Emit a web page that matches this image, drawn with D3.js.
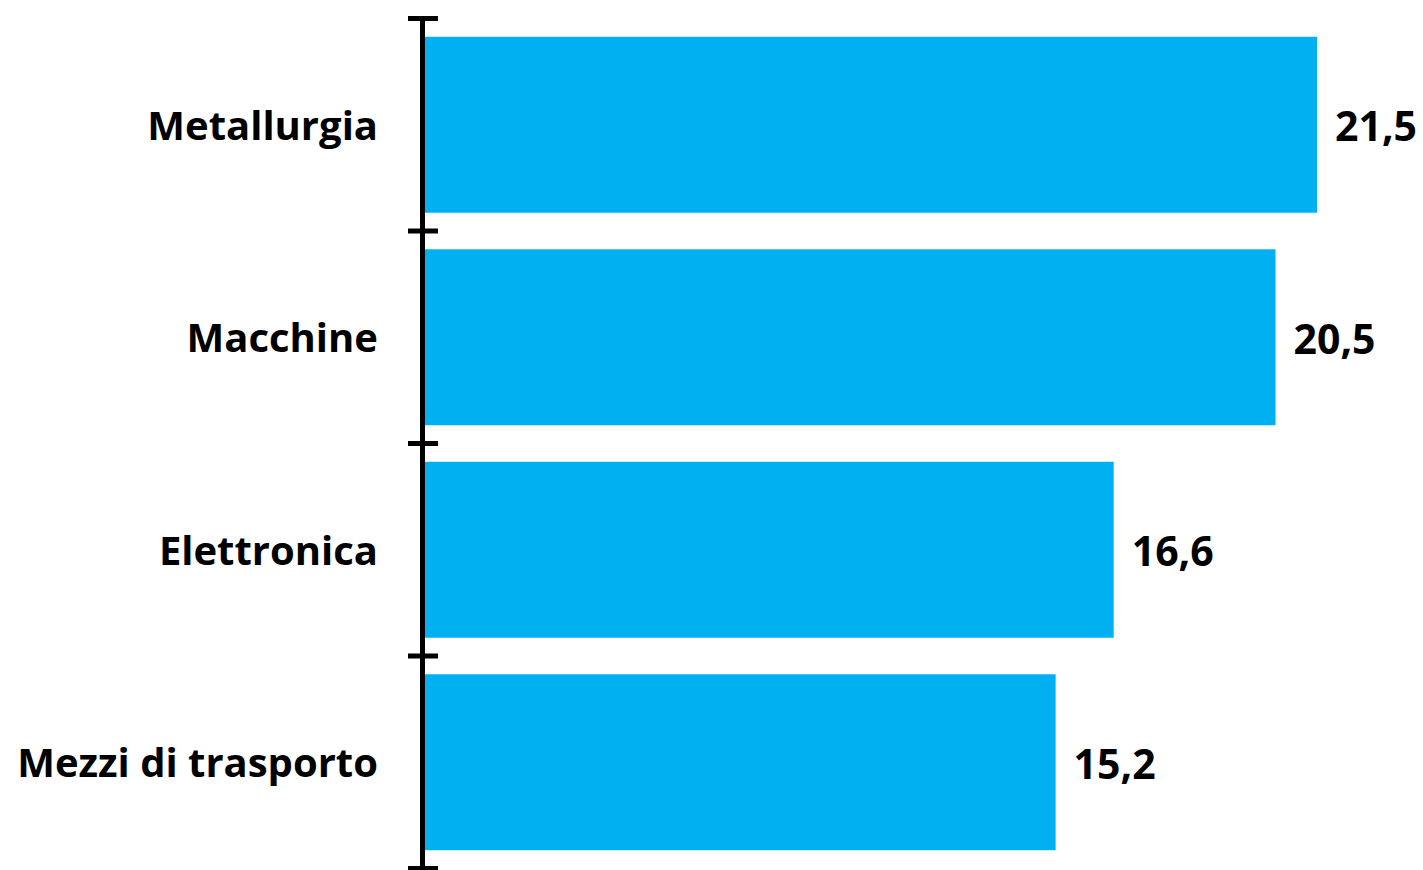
<!DOCTYPE html>
<html><head><meta charset="utf-8">
<script src="https://cdn.jsdelivr.net/npm/d3@7"></script>
<style>body{margin:0;background:#fff}svg{display:block}</style>
</head><body>
<svg id="c" width="1423" height="870"></svg>
<script>
const categories = ["Metallurgia","Macchine","Elettronica","Mezzi di trasporto"];
const values = [21.5, 20.5, 16.6, 15.2];
const valueLabels = ["21,5","20,5","16,6","15,2"];

const svg = d3.select("#c");
const x = d3.scaleLinear().domain([0, 21.5]).range([425, 1317]);
const y = d3.scaleBand().domain(categories).range([18.5, 868.5]).paddingInner(0.172).paddingOuter(0.086);

svg.selectAll("rect.bar").data(categories).join("rect")
  .attr("class","bar")
  .attr("x", x(0))
  .attr("y", d => y(d))
  .attr("width", (d,i) => x(values[i]) - x(0))
  .attr("height", y.bandwidth())
  .attr("fill", "#00B0F0");

const axisX = 422.5;
const tickPos = [18.5].concat(categories.map(c => y(c) + y.bandwidth()/2 + y.step()/2));
svg.append("line").attr("x1", axisX).attr("x2", axisX).attr("y1", 16).attr("y2", 871)
  .attr("stroke","#000").attr("stroke-width",5);
svg.selectAll("line.tick").data(tickPos).join("line")
  .attr("class","tick")
  .attr("x1", 408).attr("x2", 438)
  .attr("y1", d => d).attr("y2", d => d)
  .attr("stroke","#000").attr("stroke-width",5);

const font = "'Open Sans', sans-serif";
svg.selectAll("text.cat").data(categories).join("text")
  .attr("class","cat")
  .attr("x", 378)
  .attr("y", d => y(d) + y.bandwidth()/2)
  .attr("dy","0.38em")
  .attr("text-anchor","end")
  .attr("font-family", font).attr("font-weight", 700).attr("font-size", 40)
  .attr("fill","#000")
  .text(d => d);

svg.selectAll("text.val").data(categories).join("text")
  .attr("class","val")
  .attr("x", (d,i) => x(values[i]) + 18)
  .attr("y", d => y(d) + y.bandwidth()/2)
  .attr("dy","0.4em")
  .attr("font-family", font).attr("font-weight", 700).attr("font-size", 41)
  .attr("fill","#000")
  .text((d,i) => valueLabels[i]);
</script>
</body></html>
